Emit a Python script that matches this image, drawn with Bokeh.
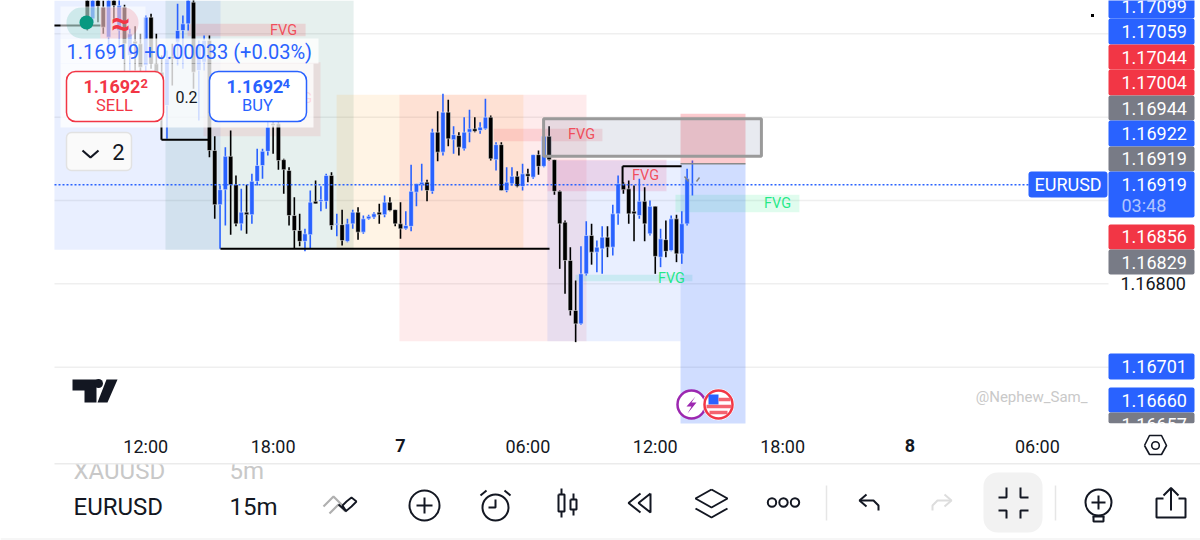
import numpy as np
from bokeh.plotting import figure
from bokeh.embed import file_html
from bokeh.resources import INLINE
from bokeh.core.properties import value
from bokeh.models import Range1d, FixedTicker, PrintfTickFormatter, BoxAnnotation, Label

# ---------- data: 15-minute candles, prices in 1e-5 units ----------
highs = [117146,117146,117146,117140,117146,117146,117142,117135,117106,117109,117100,117122,117124,117100,117074,
 117080,117088,117136,117122,117147,117147,117092,117098,117098,116977,116918,116964,116984,116930,116914,
 116919,116932,116962,116962,116996,116996,116996,116950,116940,116904,116884,116866,116912,116924,116917,
 116932,116934,116884,116889,116878,116889,116892,116882,116883,116886,116896,116906,116904,116889,116898,
 116887,116943,116920,116944,116925,116986,117007,117028,117021,116989,116982,117000,117009,117000,116994,
 117022,117002,116970,116970,116940,116940,116935,116944,116938,116955,116960,116998,116989,116949,116912,
 116876,116844,116804,116845,116875,116872,116852,116869,116869,116895,116930,116922,116924,116918,116926,
 116916,116900,116893,116866,116876,116882,116883,116887,116938,116948]
lows = [117104,117114,117114,117100,117072,117118,117086,117054,117056,117056,117054,117054,117058,117044,116996,
 116974,117038,117062,117058,117104,117034,116996,117056,116952,116878,116842,116870,116859,116869,116864,
 116860,116872,116918,116926,116954,116956,116937,116908,116870,116842,116845,116839,116842,116896,116887,
 116890,116865,116857,116846,116850,116866,116853,116860,116877,116878,116872,116880,116887,116869,116854,
 116865,116863,116893,116912,116899,116908,116947,116954,116965,116956,116954,116960,116970,116982,116980,
 116985,116948,116936,116912,116910,116918,116916,116912,116922,116926,116931,116940,116948,116907,116818,
 116788,116762,116730,116751,116810,116823,116814,116812,116832,116834,116871,116908,116872,116851,116878,
 116851,116858,116812,116820,116832,116839,116826,116824,116870,116906]
opens = [117146,117118,117142,117132,117096,117144,117104,117132,117074,117091,117088,117062,117120,117064,117054,
 117014,117073,117090,117104,117112,117138,117056,117066,117092,116960,116895,116913,116953,116919,116872,
 116886,116883,116923,116942,116959,116992,116992,116949,116936,116882,116864,116851,116859,116899,116899,
 116899,116930,116871,116871,116851,116872,116886,116862,116878,116880,116886,116883,116898,116889,116872,
 116866,116869,116910,116919,116922,116911,116982,116958,117006,116973,116978,116962,116982,116986,116984,
 116986,117000,116949,116967,116912,116920,116929,116917,116932,116928,116955,116941,116977,116949,116911,
 116874,116828,116768,116752,116812,116858,116838,116842,116856,116844,116884,116920,116914,116887,116882,
 116899,116860,116893,116832,116853,116840,116878,116836,116872,116919]
closes = [117120,117144,117133,117108,117140,117134,117134,117088,117100,117088,117060,117120,117064,117054,117014,
 117070,117070,117104,117112,117145,117054,117086,117092,116960,116895,116913,116953,116919,116872,116886,
 116883,116923,116942,116959,116988,116990,116948,116937,116882,116864,116851,116860,116898,116896,116901,
 116930,116870,116872,116852,116872,116886,116862,116878,116881,116884,116883,116898,116888,116872,116866,
 116870,116911,116920,116922,116912,116982,116958,117006,116974,116979,116964,116982,116986,116983,116988,
 117000,116950,116967,116912,116922,116929,116917,116932,116929,116955,116941,116977,116949,116911,116872,
 116828,116768,116752,116812,116858,116838,116844,116856,116844,116884,116920,116913,116884,116884,116899,
 116872,116893,116833,116854,116839,116878,116836,116872,116926,116920]
last_candle_hour = 13.75      # hours after midnight of day 7
last_price = 1.16919

# drawing tool zones: left, right (hours), top, bottom (price), colour, alpha
zone_left   = [-16.30,-11.07,-3.01,-0.05,6.92]
zone_right  = [-8.48,-2.21,5.79,8.76,13.19]
zone_top    = [1.1720,1.1720,1.17027,1.17027,1.16948]
zone_bottom = [1.16841,1.16841,1.16841,1.16731,1.16731]
zone_color  = ["#2962FF","#1B7A66","#FF9800","#F23645","#2962FF"]
zone_alpha  = [0.10,0.11,0.10,0.10,0.10]

fvg_left   = [-10.03,-9.28,4.38,6.92,12.95,8.24]
fvg_right  = [-4.47,-3.77,9.51,12.53,18.79,13.75]
fvg_top    = [1.17112,1.17066,1.16986,1.16949,1.16907,1.16811]
fvg_bottom = [1.17097,1.16977,1.16971,1.16911,1.16886,1.16803]
fvg_color  = ["#F23645","#F23645","#F23645","#E91E63","#00E676","#00C9A0"]
fvg_alpha  = [0.15,0.10,0.14,0.13,0.12,0.13]

fvg_text_x = [-5.51,-4.8,8.53,11.54,17.76,12.76]
fvg_text_y = [1.17104,1.17022,1.16979,1.16930,1.16896,1.16806]
fvg_text_c = ["#F23645","#F23645","#F23645","#F23645","#00E676","#00E676"]

sl_x0 = [-16.30,-11.26,-11.26,-8.48,10.46,10.46]
sl_x1 = [-14.13,-9.04,-11.26,7.02,13.24,10.46]
sl_y0 = [1.1711,1.16973,1.16973,1.16842,1.16941,1.16941]
sl_y1 = [1.1711,1.16973,1.16996,1.16842,1.16941,1.16920]

grid_prices = [1.171,1.170,1.169,1.168,1.167]
axis_prices = [1.168]
time_ticks  = [-12,-6,6,12,18,30]
time_labels = ["12:00","18:00","06:00","12:00","18:00","06:00"]
day_ticks   = [0,24]
day_labels  = ["7","8"]

# stacked price tags on the scale: text, rows, colour
tag_text = ["1.17099","1.17059","1.17044","1.17004","1.16944","1.16922","1.16919","1.16919","1.16856","1.16829","1.16701","1.16660","1.16657"]
tag_top  = [-7,18,44,69,95,120,146,171,224,249,353,387,412]
tag_bot  = [18,44,69,95,120,146,171,217,249,274,379,412,423]
tag_mid  = [6,31,57,82,108,133,158,184,236,262,366,400,424]
tag_col  = ["#2962FF","#2962FF","#F23645","#F23645","#787B86","#2962FF","#787B86","#2962FF","#F23645","#787B86","#2962FF","#2962FF","#787B86"]

BLUE, BLACK, RED, GREY, INK = "#2962FF", "#000000", "#F23645", "#787B86", "#131722"
FONT = "Roboto"
W, Ht = 1200, 540

# ---------- chart: the frame fills the page, scales stay in hours and price ----------
PX_H, PX_P = 21.23, 0.000012
X = lambda px: (px - 400) / PX_H
Y = lambda py: 1.1714 - PX_P * py
XS = lambda a: [X(v) for v in a]
YS = lambda a: [Y(v) for v in a]

p = figure(width=W, height=Ht, output_backend="svg", toolbar_location=None,
           x_range=Range1d(X(0), X(W)), y_range=Range1d(Y(Ht), Y(0)),
           y_axis_location="right", min_border=0, outline_line_color=None,
           background_fill_color="white", border_fill_color="white")
p.grid.visible = False

ya = p.yaxis[0]
ya.fixed_location = X(1108)
ya.ticker = FixedTicker(ticks=axis_prices)
ya.formatter = PrintfTickFormatter(format="%.5f")
ya.axis_line_color = None
ya.major_tick_line_color = None
ya.minor_tick_line_color = None
ya.major_label_text_font = FONT
ya.major_label_text_font_size = "18px"
ya.major_label_text_color = INK
ya.major_label_standoff = 6

xa = p.xaxis[0]
xa.fixed_location = Y(423)
xa.ticker = FixedTicker(ticks=time_ticks)
xa.major_label_overrides = dict(zip(time_ticks, time_labels))
xa.axis_line_color = None
xa.major_tick_line_color = None
xa.minor_tick_line_color = None
xa.major_label_text_font = FONT
xa.major_label_text_font_size = "18px"
xa.major_label_text_color = INK
xa.major_label_standoff = 6

p.segment([X(54)] * 5, grid_prices, [X(1108)] * 5, grid_prices, line_color="#EFEFEF", line_width=1.5)

p.quad(left=zone_left, right=zone_right, top=[min(v, Y(0)) for v in zone_top], bottom=zone_bottom,
       fill_color=zone_color, fill_alpha=zone_alpha, line_color=None)
p.quad(left=fvg_left, right=fvg_right, top=fvg_top, bottom=fvg_bottom,
       fill_color=fvg_color, fill_alpha=fvg_alpha, line_color=None)

n = len(closes)
hours = last_candle_hour - 0.25 * (n - 1 - np.arange(n))
H = np.array(highs) / 1e5; L = np.array(lows) / 1e5
O = np.array(opens) / 1e5; C = np.array(closes) / 1e5
up = C >= O
colors = [BLUE if u else BLACK for u in up]
p.segment(hours, H, hours, L, line_color=colors, line_width=1.6)
p.vbar(x=hours, width=0.205, top=np.maximum(O, C), bottom=np.minimum(O, C),
       fill_color=colors, line_color="white", line_width=0.6, line_alpha=0.75)

# risk/reward box and rectangle
p.quad(left=[13.19], right=[16.25], top=[1.17004], bottom=[1.16944], fill_color=RED, fill_alpha=0.26, line_color=None)
p.quad(left=[13.19], right=[16.25], top=[1.16944], bottom=[Y(423)], fill_color=BLUE, fill_alpha=0.22, line_color=None)
p.segment([13.19], [1.16944], [16.25], [1.16944], line_color="#8A8A8A", line_width=1.5)
p.quad(left=[6.74], right=[17.0], top=[1.16998], bottom=[1.16953], fill_color="#6F7F9F", fill_alpha=0.16,
       line_color="#9A9A9A", line_width=3)

p.segment(sl_x0, sl_y0, sl_x1, sl_y1, line_color="#000000", line_width=2)
p.text(fvg_text_x, fvg_text_y, text=["FVG"] * 6, text_color=fvg_text_c, text_alpha=0.85,
       text_font=value(FONT), text_font_size="14.5px", text_align="center", text_baseline="middle")
p.line([X(54), X(1028)], [last_price, last_price], line_color=BLUE, line_width=1.5, line_dash="2 2")

# small pencil marks near the last bar, dot at top right
p.segment([X(684), X(696)], [Y(176), Y(181)], [X(688), X(699)], [Y(181), Y(177)], line_color="#808080", line_width=1.4)
p.scatter([X(1092)], [Y(15)], marker="square", size=3, fill_color="black", line_color=None)

# TradingView logo
p.patch(XS((72,96,96,84,84,72)), YS((379,379,402,402,390,390)), fill_color=INK, line_color=None)
p.patch(XS((106,117,107,97)), YS((379,379,402,402)), fill_color=INK, line_color=None)
p.scatter([X(98)], [Y(383)], size=9, fill_color=INK, line_color=None)

# event badges
p.scatter([X(691)], [Y(404)], size=28, fill_color="white", line_color="#9C27B0", line_width=2.5)
p.patch(XS((695,686,691,687,696,691)), YS((396,406,406,413,402,402)), fill_color="#9C27B0", line_color=None)
p.scatter([X(718)], [Y(404)], size=31, fill_color="white", line_color="white", line_width=1)
p.scatter([X(718)], [Y(404)], size=28, fill_color="white", line_color=RED, line_width=2.5)
p.quad(left=[X(708)], right=[X(718)], top=[Y(394)], bottom=[Y(404)], fill_color=BLUE, line_color=None)
p.segment(XS((718,706,709)), YS((399,406,412)), XS((730,731,727)), YS((399,406,412)),
          line_color="#F4636F", line_width=3.5)


def box(x0, y0, x1, y1, fill="white", alpha=1.0, line=None, lw=1.0, r=0):
    p.add_layout(BoxAnnotation(left=x0, right=x1, top=Ht - y0, bottom=Ht - y1,
                               left_units="screen", right_units="screen", top_units="screen", bottom_units="screen",
                               fill_color=fill, fill_alpha=alpha, line_color=line, line_alpha=1.0, line_width=lw,
                               border_radius=r, editable=False))


def lab(x, y, text, size=18, color=INK, align="left", style="normal", alpha=1.0):
    p.add_layout(Label(x=x, y=Ht - y, x_units="screen", y_units="screen", text=text,
                       text_font=FONT, text_font_size=f"{size}px", text_color=color, text_align=align,
                       text_baseline="middle", text_font_style=style, text_alpha=alpha))


lab(1087, 396, "@Nephew_Sam_", 15, "#C9C9C9", "right")

# panels over the chart
box(60, 6, 145, 38, alpha=0.55)
box(60, 38, 318, 63, alpha=0.78)
box(60, 63, 313, 127, alpha=0.78)
box(66, 7, 100, 38, fill="#089981", alpha=0.16, r=(15, 0, 0, 15))
box(100, 7, 138, 38, fill=RED, alpha=0.16, r=(0, 15, 15, 0))
box(79, 15, 93, 29, fill="#089981", r=7)
lab(120, 22, "≈", 34, RED, "center", "bold")
lab(66, 51, "1.16919 +0.00033 (+0.03%)", 20, BLUE)
box(66, 71, 163, 121, line=RED, lw=1.5, r=9)
lab(83, 86, "1.1692", 18, RED, style="bold")
lab(140, 83, "2", 13, RED, style="bold")
lab(114, 105, "SELL", 16.5, RED, "center")
box(209, 71, 306, 121, line=BLUE, lw=1.5, r=9)
lab(226, 86, "1.1692", 18, BLUE, style="bold")
lab(282, 83, "4", 13, BLUE, style="bold")
lab(257, 105, "BUY", 16.5, BLUE, "center")
lab(186, 96, "0.2", 16, INK, "center")
box(66, 132, 131, 170, fill="#FAFAFA", line="#E2E2E2", lw=1.5, r=5)
p.line(XS((82, 90, 98)), YS((150, 157, 150)), line_color=INK, line_width=2.2, level="overlay")
lab(118, 151, "2", 22, INK, "center")

# price scale tags
for t, top, bot, mid, c in zip(tag_text, tag_top, tag_bot, tag_mid, tag_col):
    box(1108, top, 1194, bot, fill=c, r=2)
    lab(1121, mid, t, 18, "white")
lab(1121, 205, "03:48", 18, "#AFC4FF")
box(1108, 423, 1196, 436)
box(1028, 171, 1107, 197, fill=BLUE, r=3)
lab(1034, 184, "EURUSD", 18, "white")

# day labels on the time scale
for d, t in zip(day_ticks, day_labels):
    p.add_layout(Label(x=d, y=Ht - 445, x_units="data", y_units="screen", text=t, text_font=FONT,
                       text_font_size="18px", text_font_style="bold", text_color=INK,
                       text_align="center", text_baseline="middle"))

# ---------- bottom toolbar ----------
lab(73, 470, "XAUUSD", 24, "#C8C8C8")
lab(229, 470, "5m", 24, "#C8C8C8")
box(54, 456, 1200, 463)
box(54, 462.5, 1200, 464, fill="#EBEBEB")
lab(73, 506, "EURUSD", 24)
lab(229, 506, "15m", 24)
box(983, 472, 1042, 532, fill="#F2F2F2", r=14)


def pl(xs, ys, color=INK, w=2.0):
    p.line(XS(xs), YS(ys), line_color=color, line_width=w, level="overlay")


def ring(x, y, r, color=INK, w=2.0):
    p.scatter([X(x)], [Y(y)], size=2 * r, fill_color=None, line_color=color, line_width=w, level="overlay")


# settings hexagon on the time scale
pl([1144, 1149, 1161, 1166, 1161, 1149, 1144], [445, 435, 435, 445, 454, 454, 445], INK, 1.6)
ring(1155, 445, 3.8, INK, 1.6)
# separators
pl([826, 826], [485, 520], "#E6E6E6", 1.5)
pl([1055, 1055], [485, 520], "#E6E6E6", 1.5)
# strategy icon
pl([323, 333, 342], [506, 496, 505], "#B0B0B0", 2.2)
pl([329, 338, 345], [513, 504, 511], "#B0B0B0", 2.2)
pl([338, 346, 342, 346, 351, 356, 351, 345], [504, 511, 505, 501, 497, 501, 506, 511], INK, 1.8)
# add
ring(424, 505, 15)
pl([424, 424], [497, 513]); pl([416, 432], [505, 505])
# alarm
ring(495, 507, 13)
pl([495, 495, 488], [499, 507, 507])
pl([480, 486], [495, 490]); pl([510, 504], [495, 490])
# candles
pl([558, 564, 564, 558, 558], [494, 494, 511, 511, 494]); pl([561, 561], [488, 494]); pl([561, 561], [511, 517])
pl([570, 576, 576, 570, 570], [499, 499, 509, 509, 499]); pl([573, 573], [493, 499]); pl([573, 573], [509, 515])
# rewind
pl([650, 650, 638, 650], [493, 512, 502.5, 493]); pl([640, 628, 640], [493, 502.5, 512])
# layers
pl([711, 727, 711, 695, 711], [489, 498, 507, 498, 489]); pl([695, 711, 727], [508, 517, 508])
# more
for cx in (771.5, 783, 794.5):
    ring(cx, 502, 4.2)
# undo and redo
pl([878, 878, 873, 860], [510, 505, 500, 500]); pl([866, 859, 866], [494, 500, 506])
pl([932, 932, 937, 950], [510, 505, 500, 500], "#DDDDDD"); pl([944, 951, 944], [494, 500, 506], "#DDDDDD")
# exit fullscreen
pl([998, 1006, 1006], [497, 497, 487]); pl([1028, 1020, 1020], [497, 497, 487])
pl([998, 1006, 1006], [510, 510, 518]); pl([1028, 1020, 1020], [510, 510, 518])
# idea bulb
ring(1098, 502, 13)
pl([1098, 1098], [495, 509]); pl([1091, 1105], [502, 502])
pl([1092, 1104], [516, 516]); pl([1093, 1093, 1103, 1103], [516, 521, 521, 516])
# share
pl([1163, 1156, 1156, 1185, 1185, 1178], [498, 498, 517, 517, 498, 498])
pl([1170.5, 1170.5], [488, 510]); pl([1163, 1170.5, 1178], [495, 487.5, 495])
# foot rule
box(0, 538, 1200, 539, fill="#EEEEEE")

open("out.html", "w").write(file_html(p, INLINE))
